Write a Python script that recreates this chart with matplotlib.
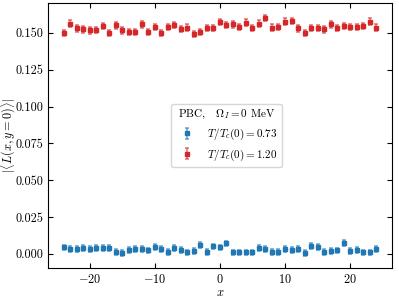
import matplotlib
matplotlib.use("Agg")
import matplotlib.pyplot as plt
import numpy as np

plt.rcParams['font.family'] = 'serif'
plt.rcParams['font.serif'] = ['cmr10', 'DejaVu Serif']
plt.rcParams['mathtext.fontset'] = 'cm'
plt.rcParams['axes.formatter.use_mathtext'] = True
plt.rcParams['axes.unicode_minus'] = True

x = list(range(-24, 25))
red = [0.1500, 0.1563, 0.1530, 0.1523, 0.1516, 0.1520, 0.1545, 0.1500, 0.1550, 0.1516,
       0.1505, 0.1505, 0.1557, 0.1507, 0.1538, 0.1500, 0.1540, 0.1554, 0.1527, 0.1536,
       0.1490, 0.1507, 0.1532, 0.1532, 0.1572, 0.1554, 0.1557, 0.1540, 0.1570, 0.1532,
       0.1563, 0.1600, 0.1536, 0.1538, 0.1577, 0.1580, 0.1530, 0.1500, 0.1532, 0.1532,
       0.1523, 0.1557, 0.1534, 0.1548, 0.1540, 0.1540, 0.1545, 0.1577, 0.1536]
blue = [0.0043, 0.0032, 0.0032, 0.0038, 0.0032, 0.0038, 0.0041, 0.0041, 0.0011, 0.0007,
        0.0025, 0.0032, 0.0032, 0.0023, 0.0045, 0.0032, 0.0011, 0.0041, 0.0025, 0.0009,
        0.0018, 0.0061, 0.0014, 0.0050, 0.0043, 0.0070, 0.0009, 0.0009, 0.0009, 0.0009,
        0.0041, 0.0034, 0.0011, 0.0011, 0.0034, 0.0027, 0.0032, 0.0005, 0.0052, 0.0045,
        0.0011, 0.0020, 0.0023, 0.0072, 0.0020, 0.0027, 0.0009, 0.0009, 0.0032]
red_err = [0.0021] * len(x)
blue_err = [0.0019] * len(x)

labels = [r'$T/T_c(0) = 0.73$', r'$T/T_c(0) = 1.20$']
legend_title = r'PBC,   $\Omega_I = 0$ MeV'

fig = plt.figure(figsize=(3.99, 2.99), dpi=100)
ax = fig.add_axes([0.12, 0.104, 0.862, 0.886])

for yv, err, c, lab in [(blue, blue_err, '#1f77b4', labels[0]), (red, red_err, '#d62728', labels[1])]:
    eb = ax.errorbar(x, yv, yerr=err, fmt='s', color=c, ms=2.2, capsize=1.6,
                     elinewidth=1.2, capthick=1.2, label=lab, ecolor=c)
    for art in eb[1]:
        art.set_alpha(0.6)
    for art in eb[2]:
        art.set_alpha(0.6)

ax.set_yticks([0.0, 0.025, 0.05, 0.075, 0.1, 0.125, 0.15])
ax.set_yticklabels(['0.000', '0.025', '0.050', '0.075', '0.100', '0.125', '0.150'])
ax.set_xticks([-20, -10, 0, 10, 20])
ax.tick_params(direction='in', top=True, right=True, labelsize=8.8)
ax.set_xlabel(r'$x$', fontsize=9, labelpad=1)
ax.set_ylabel(r'$|\langle L(x, y=0)\rangle|$', fontsize=8.8)
ax.yaxis.set_label_coords(-0.088, 0.5)

leg = ax.legend(loc='center', title=legend_title, fontsize=8, title_fontsize=8,
                frameon=True, fancybox=True, framealpha=0.8, edgecolor='0.8',
                bbox_to_anchor=(0.52, 0.5))
fig.savefig('out.png', dpi=100)
